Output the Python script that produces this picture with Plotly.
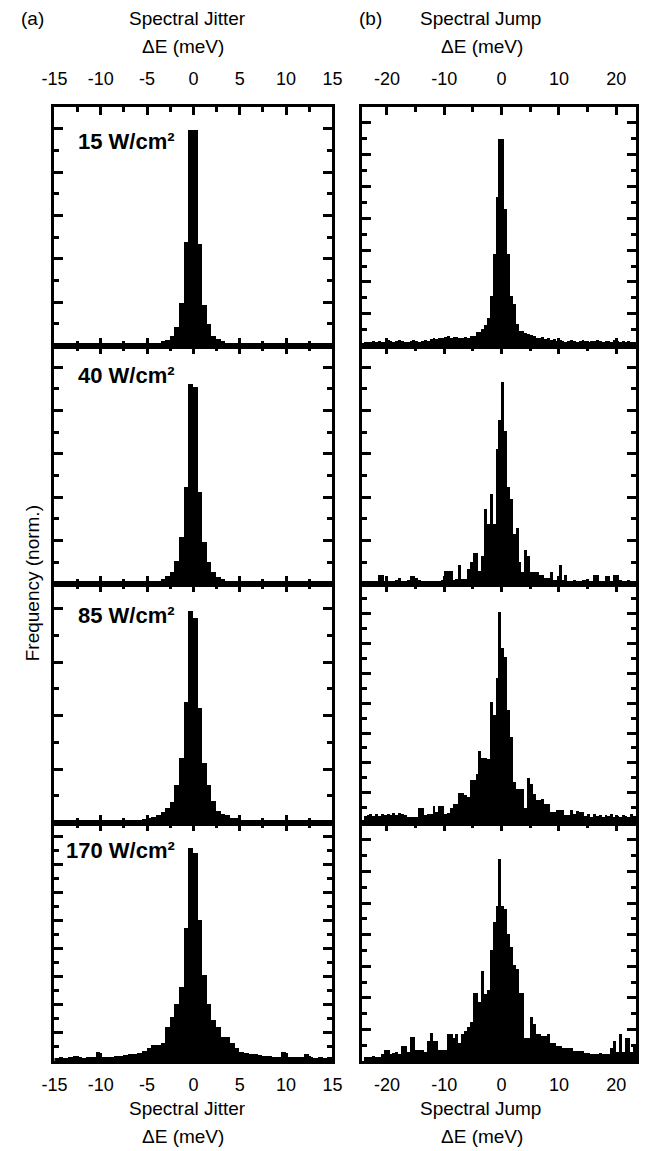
import plotly.graph_objects as go

# ---------------- data (bin width 0.5 meV) ----------------
# Spectral jitter histograms, bins with left edges -15 ... 14.5
jitter_bin_start = -15.0
bin_width = 0.5

jitter_15 = [0, 0, 0, 0, 0, 0, 0, 0, 0, 0,
             0, 0, 0, 0, 0, 0, 0, 0, 0, 0.03,
             0.04, 0.06, 0.12, 0.2, 0.26, 0.46, 0.85, 1.95, 4.77, 9.92,
             9.92, 4.69, 1.88, 1.0, 0.46, 0.3, 0.2, 0.12, 0.08, 0.05,
             0.04, 0.03, 0, 0, 0, 0, 0, 0, 0, 0,
             0, 0, 0, 0, 0, 0, 0, 0, 0, 0]
jitter_40 = [0, 0, 0, 0, 0, 0, 0, 0, 0.02, 0.02,
             0.02, 0.03, 0.03, 0.03, 0.04, 0.04, 0.05, 0.05, 0.05, 0.06,
             0.1, 0.12, 0.18, 0.26, 0.38, 0.57, 1.1, 2.18, 4.49, 9.26,
             9.1, 4.26, 1.95, 1.06, 0.57, 0.34, 0.26, 0.18, 0.12, 0.08,
             0.05, 0.04, 0.04, 0.03, 0.03, 0.02, 0.02, 0.02, 0, 0,
             0, 0, 0, 0, 0, 0, 0, 0, 0, 0]
jitter_85 = [0.02, 0.02, 0.02, 0.03, 0.03, 0.03, 0.03, 0.04, 0.04, 0.04,
             0.05, 0.05, 0.06, 0.06, 0.07, 0.08, 0.08, 0.09, 0.1, 0.12,
             0.18, 0.21, 0.28, 0.38, 0.55, 0.78, 1.4, 2.4, 4.5, 7.93,
             7.65, 4.28, 2.21, 1.4, 0.8, 0.43, 0.33, 0.28, 0.18, 0.15,
             0.1, 0.08, 0.07, 0.06, 0.05, 0.05, 0.04, 0.04, 0.03, 0.03,
             0.03, 0.02, 0.02, 0.02, 0.02, 0.02, 0.01, 0.01, 0.01, 0.01]
jitter_170 = [0.25, 0.3, 0.25, 0.3, 0.4, 0.3, 0.25, 0.3, 0.3, 0.7,
              0.3, 0.3, 0.35, 0.4, 0.4, 0.45, 0.5, 0.55, 0.6, 0.76,
              0.95, 1.2, 1.2, 1.3, 2.43, 3.14, 4.07, 5.29, 9.5, 15.2,
              14.86, 10.07, 6.14, 4.07, 2.93, 2.43, 1.74, 1.74, 1.3, 0.95,
              0.7, 0.6, 0.55, 0.5, 0.45, 0.4, 0.4, 0.35, 0.35, 0.7,
              0.3, 0.3, 0.3, 0.3, 0.5, 0.3, 0.25, 0.3, 0.25, 0.3]

# Spectral jump histograms, bins with left edges -24 ... 23.5
jump_bin_start = -24.0
jump_15 = [0.2, 0.25, 0.2, 0.3, 0.2, 0.3, 0.2, 0.25, 0.35, 0.3,
           0.25, 0.3, 0.35, 0.3, 0.25, 0.2, 0.3, 0.35, 0.3, 0.25,
           0.3, 0.35, 0.3, 0.4, 0.45, 0.4, 0.45, 0.5, 0.55, 0.6,
           0.5, 0.55, 0.55, 0.5, 0.5, 0.55, 0.5, 0.6, 0.6, 0.84,
           0.84, 1.05, 1.26, 1.72, 3.14, 5.77, 9.37, 13.0, 13.0, 8.6,
           5.77, 3.14, 2.62, 1.36, 0.94, 0.94, 0.78, 0.7, 0.63, 0.6,
           0.5, 0.45, 0.55, 0.4, 0.45, 0.35, 0.4, 0.3, 0.35, 0.3,
           0.25, 0.3, 0.35, 0.3, 0.25, 0.3, 0.35, 0.3, 0.25, 0.3,
           0.3, 0.35, 0.3, 0.25, 0.3, 0.3, 0.25, 0.35, 0.3, 0.25,
           0.3, 0.25, 0.3, 0.25, 0.2, 0.25]
jump_40 = [0.1, 0.14, 0.1, 0.14, 0.1, 0.42, 0.42, 0.14, 0.1, 0.14,
           0.1, 0.2, 0.3, 0.14, 0.1, 0.2, 0.38, 0.38, 0.3, 0.2,
           0.14, 0.14, 0.1, 0.14, 0.14, 0.1, 0.14, 0.2, 0.6, 0.6,
           0.6, 0.2, 0.26, 0.88, 0.26, 0.26, 0.72, 1.03, 1.46, 1.46,
           0.6, 1.3, 3.49, 2.77, 4.18, 2.77, 6.26, 7.57, 9.34, 7.1,
           4.49, 3.95, 2.34, 2.6, 1.03, 0.57, 1.57, 1.31, 0.57, 0.57,
           0.57, 0.42, 0.42, 0.3, 0.3, 0.57, 0.2, 0.2, 0.88, 0.2,
           0.42, 0.14, 0.14, 0.2, 0.14, 0.1, 0.2, 0.2, 0.14, 0.1,
           0.42, 0.42, 0.1, 0.14, 0.38, 0.38, 0.14, 0.42, 0.42, 0.2,
           0.14, 0.1, 0.2, 0.14, 0.1, 0.14]
jump_85 = [0.45, 0.49, 0.6, 0.45, 0.55, 0.45, 0.6, 0.5, 0.55, 0.49,
           0.67, 0.49, 0.67, 0.6, 0.5, 0.38, 0.38, 0.38, 0.38, 0.98,
           0.98, 0.5, 0.6, 0.6, 1.1, 0.7, 1.1, 1.1, 0.6, 0.67,
           0.94, 1.27, 1.27, 2.0, 2.0, 1.85, 1.72, 2.83, 2.83, 3.28,
           4.78, 4.33, 4.33, 4.29, 8.08, 7.2, 9.69, 14.15, 11.7, 11.1,
           7.52, 5.74, 2.72, 2.28, 2.28, 2.28, 0.94, 3.0, 2.6, 1.94,
           1.5, 1.5, 1.56, 1.27, 1.27, 0.71, 0.71, 0.83, 0.83, 0.83,
           0.49, 0.49, 0.83, 0.6, 0.8, 0.71, 0.71, 0.45, 0.6, 0.4,
           0.55, 0.45, 0.5, 0.35, 0.5, 0.45, 0.55, 0.4, 0.45, 0.35,
           0.5, 0.45, 0.4, 0.55, 0.45, 0.4]
jump_170 = [0.27, 0.27, 0.27, 0.35, 0.3, 0.3, 0.5, 0.76, 0.76, 0.5,
            0.55, 0.6, 0.5, 1.0, 1.0, 0.6, 1.56, 1.56, 0.74, 0.74,
            0.74, 0.6, 1.3, 1.8, 1.3, 1.3, 0.74, 0.74, 0.74, 1.77,
            1.77, 1.5, 1.77, 1.2, 1.77, 1.9, 2.17, 2.49, 4.32, 4.32,
            3.76, 5.72, 4.28, 4.53, 7.03, 8.82, 9.87, 12.8, 9.87, 9.68,
            8.1, 7.23, 6.08, 5.87, 4.32, 4.32, 1.5, 1.5, 2.8, 2.4,
            1.77, 1.77, 1.6, 1.6, 1.77, 1.2, 1.2, 1.0, 1.0, 0.86,
            0.86, 0.86, 0.86, 0.65, 0.65, 0.65, 0.65, 0.55, 0.55, 0.5,
            0.5, 0.5, 0.55, 0.5, 0.5, 0.5, 0.86, 1.3, 0.6, 1.77,
            0.6, 1.5, 1.5, 0.6, 1.0, 0.6]

power_labels = ["15 W/cm²", "40 W/cm²", "85 W/cm²", "170 W/cm²"]
jitter_sets = [jitter_15, jitter_40, jitter_85, jitter_170]
jump_sets = [jump_15, jump_40, jump_85, jump_170]

# y ranges (in arbitrary normalized units, one tick per unit)
jitter_ymax = [11.0, 11.0, 8.93, 17.0]
jump_ymax = [15.0, 11.0, 16.0, 15.1]

jitter_ticks = [-15, -10, -5, 0, 5, 10, 15]
jump_ticks = [-20, -10, 0, 10, 20]

# ---------------- layout geometry ----------------
W, H = 656, 1151
FONT = "Liberation Sans, Arial, Helvetica, sans-serif"
row_px = [107, 345.5, 584, 822.5, 1061]
col_px = [(43, 331), (362, 646)]


def centers(start, n):
    return [start + bin_width * (i + 0.5) for i in range(n)]


fig = go.Figure()
layout = {}

for r in range(4):
    for c in range(2):
        n = r * 2 + c + 1
        vals = jitter_sets[r] if c == 0 else jump_sets[r]
        start = jitter_bin_start if c == 0 else jump_bin_start
        fig.add_trace(go.Bar(
            x=centers(start, len(vals)), y=vals, width=bin_width,
            marker=dict(color="black", line=dict(width=0)),
            xaxis=f"x{n}", yaxis=f"y{n}", showlegend=False, hoverinfo="skip"))

        xd = [col_px[c][0] / W, col_px[c][1] / W]
        yd = [1 - row_px[r + 1] / H, 1 - row_px[r] / H]
        if c == 0:
            xr = [-15, 15]
            tv = jitter_ticks
            mdt = 2.5
        else:
            xr = [-24.3, 23.5]
            tv = jump_ticks
            mdt = 5
        show_lbl = r in (0, 3)
        xa = dict(domain=xd, anchor=f"y{n}", range=xr,
                  tickmode="array", tickvals=tv, ticktext=[str(v) for v in tv],
                  ticks="inside", ticklen=8, tickwidth=2.5, tickcolor="black",
                  minor=dict(tickmode="linear", tick0=0, dtick=mdt, ticks="inside",
                             ticklen=5, tickwidth=2.5, tickcolor="black", showgrid=False),
                  showline=True, linewidth=3, linecolor="black", mirror="ticks",
                  showgrid=False, zeroline=False, showticklabels=show_lbl,
                  side="top" if r == 0 else "bottom",
                  tickfont=dict(family=FONT, size=18, color="black"),
                  ticklabelstandoff=12 if r == 0 else 5,
                  fixedrange=True)
        ya = dict(domain=yd, anchor=f"x{n}", range=[0, (jitter_ymax if c == 0 else jump_ymax)[r]],
                  tickmode="linear", tick0=0, dtick=2,
                  ticks="inside", ticklen=9, tickwidth=2.5, tickcolor="black",
                  minor=dict(tickmode="linear", tick0=0, dtick=1, ticks="inside",
                             ticklen=5, tickwidth=2.5, tickcolor="black", showgrid=False),
                  showline=True, linewidth=3, linecolor="black", mirror="ticks",
                  showgrid=False, zeroline=False, showticklabels=False,
                  fixedrange=True)
        key = "" if n == 1 else str(n)
        layout[f"xaxis{key}"] = xa
        layout[f"yaxis{key}"] = ya


def ann(text, xp, yp, size=19, bold=False, xanchor="center", angle=0):
    return dict(text=f"<b>{text}</b>" if bold else text, x=xp / W, y=1 - yp / H,
                xref="paper", yref="paper", showarrow=False, xanchor=xanchor,
                yanchor="middle", textangle=angle,
                font=dict(family=FONT, size=size, color="black"))


annotations = [
    ann("(a)", 20, 19),
    ann("(b)", 370, 19),
    ann("Spectral Jitter", 181, 19),
    ann("ΔE (meV)", 176, 47),
    ann("Spectral Jump", 484, 19),
    ann("ΔE (meV)", 486, 47),
    ann("Spectral Jitter", 181, 1108),
    ann("ΔE (meV)", 176, 1136),
    ann("Spectral Jump", 484, 1108),
    ann("ΔE (meV)", 486, 1136),
    ann("Frequency (norm.)", 20, 583, angle=-90),
]
label_y = [142, 375, 615, 850]
for lbl, yp in zip(power_labels, label_y):
    annotations.append(ann(lbl, 170, yp, size=22, bold=True, xanchor="right"))

fig.update_layout(
    width=W, height=H,
    margin=dict(l=0, r=0, t=0, b=0),
    paper_bgcolor="white", plot_bgcolor="white",
    bargap=0, barmode="overlay",
    annotations=annotations,
    **layout,
)

fig.write_html("out.html", config={"displayModeBar": False})
